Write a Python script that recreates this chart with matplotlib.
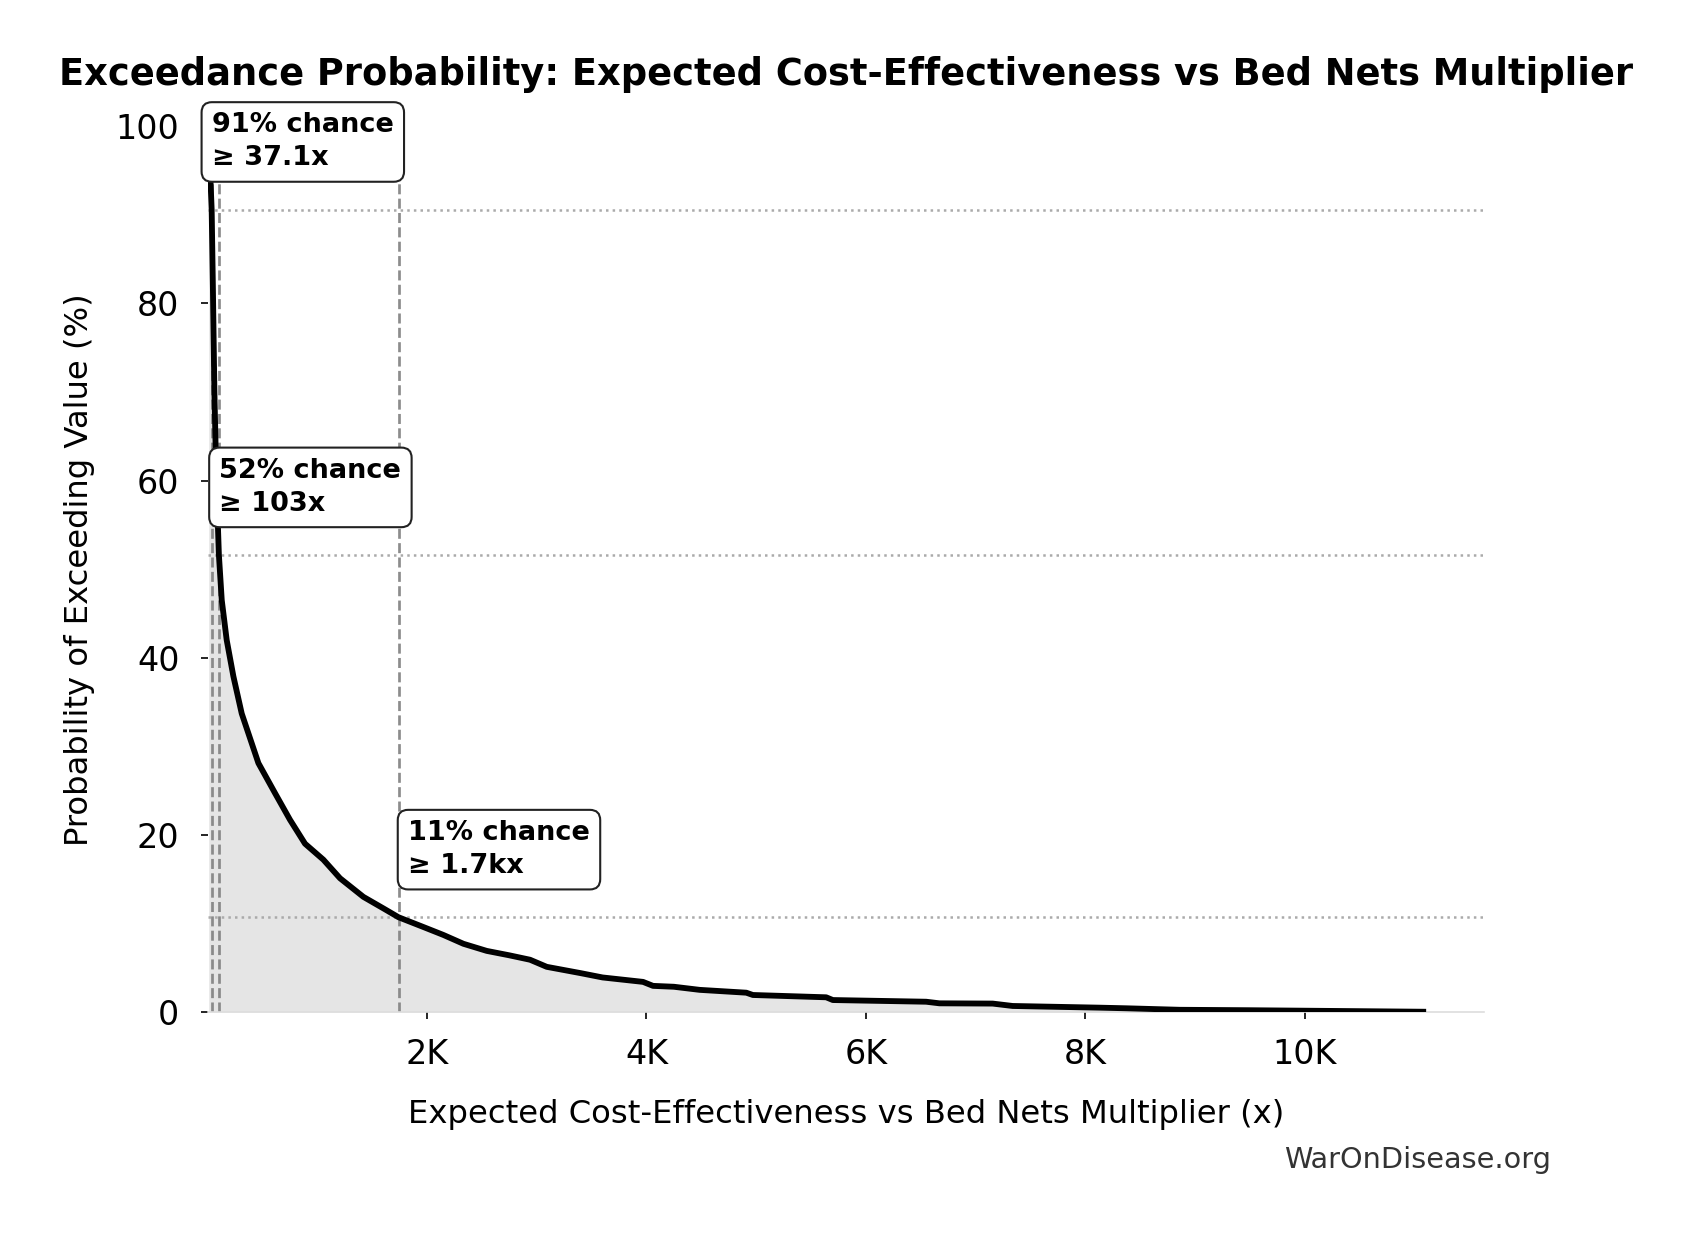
import matplotlib

matplotlib.use("Agg")
import matplotlib.pyplot as plt  # noqa: E402

# exceedance curve (multiplier vs % of draws above it)
multiplier = [
    10, 18, 26, 37.1, 48, 62, 80, 103, 129, 174, 235, 311, 463, 615, 751,
    888, 1055, 1207, 1420, 1602, 1740, 1966, 2149, 2332, 2544, 2750, 2939,
    3091, 3395, 3600, 3969, 4060, 4250, 4485, 4910, 4970, 5638, 5699, 6549,
    6670, 7156, 7338, 8126, 8370, 8860, 9500, 10250, 11080,
]
exceed_pct = [
    100, 97, 94, 90.6, 82, 70, 60, 51.6, 46.5, 42, 37.9, 33.7, 28.1, 24.7,
    21.7, 19.0, 17.2, 15.1, 13.0, 11.7, 10.7, 9.6, 8.7, 7.7, 6.9, 6.4, 5.9,
    5.1, 4.4, 3.9, 3.4, 2.95, 2.85, 2.5, 2.18, 1.92, 1.66, 1.35, 1.16, 0.98,
    0.95, 0.68, 0.49, 0.42, 0.25, 0.2, 0.12, 0.03,
]

# highlighted thresholds
marker_values = [37.1, 103, 1740]
marker_pcts = [90.6, 51.6, 10.7]
marker_value_labels = ["37.1x", "103x", "1.7kx"]

x_ticks = [2000, 4000, 6000, 8000, 10000]
x_tick_labels = ["2K", "4K", "6K", "8K", "10K"]
y_ticks = [0, 20, 40, 60, 80, 100]

W, H, DPI = 1692, 1233, 150
fig = plt.figure(figsize=(W / DPI, H / DPI), dpi=DPI, facecolor="white")
ax = fig.add_axes([207.6 / W, 1 - 1012 / H, (1484 - 207.6) / W, (1012 - 126.3) / H])

ax.fill_between(multiplier, exceed_pct, 0, color="gray", alpha=0.2, lw=0, zorder=1)
ax.plot(multiplier, exceed_pct, color="black", lw=2.8, zorder=3)

for value, pct, value_label in zip(marker_values, marker_pcts, marker_value_labels):
    ax.axvline(value, color="gray", ls="--", lw=1.3, alpha=0.9, zorder=2)
    ax.axhline(pct, color="#aaaaaa", ls=":", lw=1.2, zorder=2)
    ax.text(
        value * 1.05,
        pct + 4.3,
        f"{pct:.0f}% chance\n≥ {value_label}",
        ha="left",
        va="bottom",
        fontsize=13,
        fontweight="bold",
        linespacing=1.35,
        bbox=dict(boxstyle="round,pad=0.38", facecolor="white", edgecolor="#222222", lw=1.0),
        zorder=5,
    )

ax.set_xlim(0, max(multiplier) * 1.05)
ax.set_ylim(0, 100)
ax.set_xticks(x_ticks)
ax.set_xticklabels(x_tick_labels)
ax.set_yticks(y_ticks)
ax.tick_params(axis="x", labelsize=16, pad=9)
ax.tick_params(axis="y", labelsize=16, pad=10)

for side in ("top", "right", "left"):
    ax.spines[side].set_visible(False)
ax.spines["bottom"].set_color("#dddddd")

ax.set_xlabel("Expected Cost-Effectiveness vs Bed Nets Multiplier (x)", fontsize=15.5, labelpad=13.3)
ax.set_ylabel("Probability of Exceeding Value (%)", fontsize=15.5, labelpad=10)
ax.set_title(
    "Exceedance Probability: Expected Cost-Effectiveness vs Bed Nets Multiplier",
    fontsize=17.65,
    fontweight="bold",
    pad=20,
)

fig.text(0.9167, 0.0592, "WarOnDisease.org", ha="right", va="center", fontsize=13.8, color="#333333")

fig.savefig("out.png", dpi=DPI, facecolor="white")
plt.close(fig)
